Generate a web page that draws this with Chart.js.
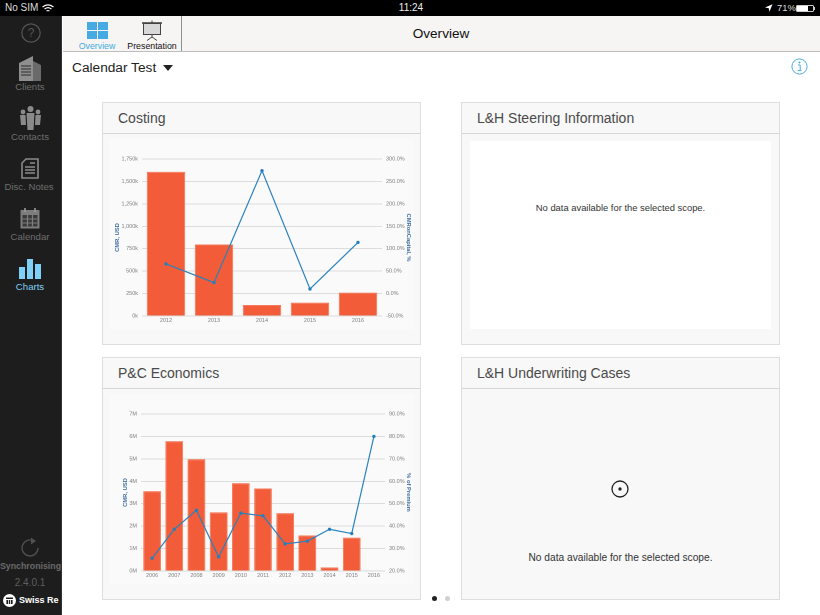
<!DOCTYPE html>
<html>
<head>
<meta charset="utf-8">
<title>Overview</title>
<script src="https://cdn.jsdelivr.net/npm/chart.js@4"></script>
<style>
html, body { margin: 0; padding: 0; background: #fff; }
body { width: 820px; height: 615px; overflow: hidden; position: relative; font-family: "Liberation Sans", sans-serif; }
.box { position: absolute; box-sizing: border-box; }
.txt { position: absolute; white-space: nowrap; line-height: 1; }
.mid { transform: translateX(-50%); }
.side { color: #6e6e6e; font-size: 9.6px; }
.panel { position: absolute; box-sizing: border-box; width: 319px; height: 243px; background: #f8f8f8; border: 1px solid #dedede; }
.panel .head { position: absolute; left: 0; top: 0; right: 0; height: 30px; border-bottom: 1px solid #d6d6d6; }
.panel .title { position: absolute; left: 15px; top: 8px; font-size: 14px; line-height: 1; color: #4a4a4a; white-space: nowrap; }
.nodata { position: absolute; left: 0; right: 0; text-align: center; color: #333; line-height: 1; }
canvas { position: absolute; }
svg { position: absolute; overflow: visible; }
</style>
</head>
<body>

<!-- status bar -->
<div class="box" style="left:0;top:0;width:820px;height:16px;background:#000"></div>
<span class="txt" style="left:5px;top:3px;font-size:10px;color:#ddd">No SIM</span>
<svg style="left:42px;top:4px" width="12" height="9" viewBox="0 0 12 9" fill="none" stroke="#fff" stroke-width="1.2">
  <path d="M0.6 3 Q6 -1.4 11.4 3"/><path d="M2.6 5 Q6 2.2 9.4 5"/><path d="M4.6 7 Q6 6 7.4 7"/>
</svg>
<span class="txt mid" style="left:411px;top:3px;font-size:10px;color:#eee">11:24</span>
<svg style="left:765px;top:4px" width="8" height="8" viewBox="0 0 8 8"><path d="M0 3.6 L7.5 0.3 L4.4 7.8 L3.8 4.2 Z" fill="#fff"/></svg>
<span class="txt" style="left:777px;top:3px;font-size:9.4px;color:#ddd">71%</span>
<div class="box" style="left:796px;top:5px;width:18px;height:7px;border:1px solid #ccc;border-radius:1px"><div style="width:11px;height:5px;background:#fff"></div></div>
<div class="box" style="left:814px;top:7px;width:1px;height:3px;background:#ccc"></div>

<!-- sidebar -->
<div class="box" style="left:0;top:16px;width:62px;height:599px;background:#1d1d1d;border-right:1px solid #333"></div>
<svg style="left:21px;top:23px" width="20" height="20" viewBox="0 0 20 20">
  <circle cx="10" cy="10" r="9.2" fill="none" stroke="#555" stroke-width="1.2"/>
  <text x="10" y="14" font-size="12" text-anchor="middle" fill="#555" font-family="Liberation Sans">?</text>
</svg>
<svg style="left:18px;top:55px" width="24" height="26" viewBox="0 0 24 26">
  <path d="M1 8 L15 1 V26 H1 Z" fill="#8e8e8e"/><path d="M15 6 L23 10 V26 H15 Z" fill="#6a6a6a"/>
  <path d="M3 11 H13 M3 14 H13 M3 17 H13 M3 20 H13" stroke="#2a2a2a" stroke-width="1.2"/>
</svg>
<span class="txt mid side" style="left:30px;top:82px">Clients</span>
<svg style="left:19px;top:106px" width="23" height="24" viewBox="0 0 23 24" fill="#8a8a8a">
  <circle cx="11.5" cy="3" r="3"/><circle cx="4" cy="6" r="2.4"/><circle cx="19" cy="6" r="2.4"/>
  <path d="M7.5 7 H15.5 L14.5 24 H8.5 Z"/><path d="M1 9 H6.5 L7 19 H2 Z"/><path d="M16.5 9 H22 L21 19 H16 Z"/>
</svg>
<span class="txt mid side" style="left:30px;top:132px">Contacts</span>
<svg style="left:21px;top:158px" width="18" height="21" viewBox="0 0 18 21">
  <path d="M5 1 H17 V20 H1 V5 Z" fill="none" stroke="#8a8a8a" stroke-width="1.6"/>
  <path d="M9 5 H14 M4 9 H14 M4 12 H14 M4 15 H14" stroke="#8a8a8a" stroke-width="1.3"/>
</svg>
<span class="txt mid side" style="left:29px;top:182px">Disc. Notes</span>
<svg style="left:20px;top:208px" width="20" height="21" viewBox="0 0 20 21">
  <rect x="0.5" y="2" width="19" height="18.5" fill="#7d7d7d"/>
  <rect x="2.5" y="7" width="15" height="11.5" fill="#3a3a3a"/>
  <path d="M7.5 7 V18.5 M12.5 7 V18.5 M2.5 11 H17.5 M2.5 15 H17.5" stroke="#7d7d7d" stroke-width="1.2"/>
  <path d="M5 0 V4 M15 0 V4" stroke="#9a9a9a" stroke-width="1.6"/>
</svg>
<span class="txt mid side" style="left:30px;top:232px">Calendar</span>
<svg style="left:19px;top:259px" width="22" height="20" viewBox="0 0 22 20" fill="#7fd0f8">
  <rect x="0" y="8" width="6" height="12"/><rect x="8" y="0" width="6" height="20"/><rect x="16" y="5" width="6" height="15"/>
</svg>
<span class="txt mid" style="left:30px;top:282px;font-size:9.6px;color:#7fd0f8">Charts</span>
<svg style="left:21px;top:537px" width="19" height="20" viewBox="0 0 19 20" fill="none" stroke="#505050" stroke-width="1.4">
  <path d="M13 4 A8 8 0 1 0 17 11"/><path d="M10 0.5 L15 4 L10 7.5" fill="#505050" stroke="none"/>
</svg>
<span class="txt mid" style="left:30.5px;top:562px;font-size:8.8px;font-weight:bold;color:#6a6a6a">Synchronising</span>
<span class="txt mid" style="left:30px;top:578px;font-size:10px;color:#5e5e5e">2.4.0.1</span>
<svg style="left:3px;top:594px" width="13" height="13" viewBox="0 0 13 13">
  <circle cx="6.5" cy="6.5" r="6.5" fill="#fff"/>
  <path d="M3 3.6 H10 V5 H3 Z M3.4 6 H5 V10 H3.4 Z M5.8 6 H7.2 V10 H5.8 Z M8 6 H9.6 V10 H8 Z" fill="#1d1d1d"/>
</svg>
<span class="txt" style="left:19px;top:596px;font-size:9px;font-weight:bold;color:#fff">Swiss Re</span>

<!-- top bar -->
<div class="box" style="left:63px;top:16px;width:757px;height:36px;background:#f6f5f3;border-bottom:1px solid #bdbdbd"></div>
<div class="box" style="left:181px;top:16px;width:1px;height:35px;background:#8f8f8f"></div>
<svg style="left:87px;top:22px" width="21" height="17" viewBox="0 0 21 17" fill="#45abe2">
  <rect x="0" y="0" width="10" height="8"/><rect x="11" y="0" width="10" height="8"/>
  <rect x="0" y="9" width="10" height="8"/><rect x="11" y="9" width="10" height="8"/>
</svg>
<span class="txt mid" style="left:97px;top:42px;font-size:8.8px;color:#45abe2">Overview</span>
<svg style="left:141px;top:20px" width="22" height="21" viewBox="0 0 22 21" fill="none" stroke="#444">
  <path d="M1 3 H21" stroke-width="1.6"/><rect x="2.5" y="3.5" width="17" height="11" fill="#d8d8d8" stroke-width="1"/>
  <path d="M11 0.5 V3 M11 15 V17 M11 17 L6 20.5 M11 17 L16 20.5" stroke-width="1"/>
</svg>
<span class="txt mid" style="left:152px;top:42px;font-size:8.8px;color:#111">Presentation</span>
<span class="txt mid" style="left:441px;top:27px;font-size:13.6px;color:#111">Overview</span>

<!-- scope line -->
<span class="txt" style="left:72px;top:61px;font-size:13.7px;color:#222">Calendar Test</span>
<svg style="left:163px;top:65px" width="10" height="6" viewBox="0 0 10 6"><path d="M0 0 H10 L5 6 Z" fill="#222"/></svg>
<svg style="left:791px;top:58px" width="17" height="17" viewBox="0 0 17 17">
  <circle cx="8.5" cy="8.5" r="7.6" fill="none" stroke="#45abe2" stroke-width="1"/>
  <circle cx="8.5" cy="4.6" r="1" fill="#45abe2"/>
  <path d="M7 7 H9.2 V12.4 M6.6 12.6 H10.4" fill="none" stroke="#45abe2" stroke-width="1"/>
</svg>

<!-- panels -->
<div class="panel" style="left:102px;top:102px"><div class="head"></div><span class="title">Costing</span>
  <div class="box" style="left:6px;top:36px;width:305px;height:190px;background:#fafafa"></div>
</div>
<div class="panel" style="left:461px;top:102px"><div class="head"></div><span class="title">L&amp;H Steering Information</span>
  <div class="box" style="left:8px;top:38px;width:301px;height:188px;background:#fff"></div>
  <div class="nodata" style="top:100px;font-size:9.4px">No data available for the selected scope.</div>
</div>
<div class="panel" style="left:102px;top:357px"><div class="head"></div><span class="title">P&amp;C Economics</span>
  <div class="box" style="left:6px;top:36px;width:305px;height:190px;background:#fafafa"></div>
</div>
<div class="panel" style="left:461px;top:357px"><div class="head"></div><span class="title">L&amp;H Underwriting Cases</span>
  <div class="nodata" style="top:195px;font-size:10.2px">No data available for the selected scope.</div>
</div>
<svg style="left:611px;top:480px" width="18" height="18" viewBox="0 0 18 18">
  <circle cx="9" cy="9" r="8" fill="none" stroke="#222" stroke-width="1.3"/><circle cx="9" cy="9" r="1.7" fill="#222"/>
</svg>

<canvas id="costingChart" style="left:108px;top:140px;width:305px;height:195px"></canvas>
<canvas id="economicsChart" style="left:108px;top:395px;width:305px;height:195px"></canvas>

<!-- page dots -->
<div class="box" style="left:432px;top:596px;width:5px;height:5px;border-radius:50%;background:#222"></div>
<div class="box" style="left:445px;top:596px;width:5px;height:5px;border-radius:50%;background:#d0d0d0"></div>

<script>
'use strict';

// ===== COSTING =====
const costingYears = ['2012', '2013', '2014', '2015', '2016'];
const costingCmr = [1608, 797, 123, 149, 260];
const costingRoc = [66, 24.5, 274, 10.3, 114];
const costingLeftTicks = ['0k', '250k', '500k', '750k', '1,000k', '1,250k', '1,500k', '1,750k'];
const costingRightTicks = ['-50.0%', '0.0%', '50.0%', '100.0%', '150.0%', '200.0%', '250.0%', '300.0%'];

// ===== P&C ECONOMICS =====
const economicsYears = ['2006', '2007', '2008', '2009', '2010', '2011', '2012', '2013', '2014', '2015', '2016'];
const economicsCmr = [3.56, 5.79, 4.99, 2.62, 3.92, 3.68, 2.58, 1.59, 0.16, 1.49, 0.015];
const economicsPremium = [25.7, 38.6, 47.1, 26.3, 45.8, 44.6, 32.1, 33.3, 38.6, 36.7, 80];
const economicsLeftTicks = ['0M', '1M', '2M', '3M', '4M', '5M', '6M', '7M'];
const economicsRightTicks = ['20.0%', '30.0%', '40.0%', '50.0%', '60.0%', '70.0%', '80.0%', '90.0%'];

const BAR_COLOR = '#f25c38';
const BAR_EDGE = '#f5795a';
const LINE_COLOR = '#2a82bd';
const GRID_COLOR = '#dcdcdc';
const TICK_COLOR = '#7d7d7d';
const TITLE_COLOR = '#3d6d9e';
const FONT = '"Liberation Sans", sans-serif';

function valueAxis(position, min, max, step, labels, title, width, titleInset, showGrid) {
    return {
        position: position,
        min: min,
        max: max,
        afterBuildTicks: function(axis) {
            axis.ticks = labels.map(function(label, i) { return { value: min + i * step }; });
        },
        afterFit: function(axis) { axis.width = width; },
        border: { display: false },
        grid: { display: showGrid, color: GRID_COLOR, lineWidth: 1, drawTicks: false },
        ticks: {
            autoSkip: false,
            padding: 4,
            color: TICK_COLOR,
            font: { family: FONT, size: 5.5 },
            callback: function(value, index) { return labels[index]; }
        },
        title: {
            display: true,
            text: title,
            color: TITLE_COLOR,
            padding: { top: titleInset, bottom: 0 },
            font: { family: FONT, size: 5.8, weight: 'bold' }
        }
    };
}

function makeChart(id, opts) {
    new Chart(document.getElementById(id), {
        data: {
            labels: opts.labels,
            datasets: [
                {
                    type: 'line',
                    data: opts.lineValues,
                    yAxisID: 'right',
                    order: 1,
                    borderColor: LINE_COLOR,
                    backgroundColor: '#1f6ea8',
                    borderWidth: 1.2,
                    pointRadius: 1.1,
                    tension: 0
                },
                {
                    type: 'bar',
                    data: opts.barValues,
                    yAxisID: 'left',
                    order: 2,
                    backgroundColor: BAR_COLOR,
                    borderColor: BAR_EDGE,
                    borderWidth: 1,
                    categoryPercentage: 1,
                    barPercentage: 0.8
                }
            ]
        },
        options: {
            responsive: false,
            animation: false,
            devicePixelRatio: 2,
            layout: { padding: { top: opts.top, bottom: 0, left: 0, right: 0 } },
            plugins: { legend: { display: false }, tooltip: { enabled: false } },
            scales: {
                x: {
                    afterFit: function(axis) { axis.height = 19; },
                    border: { display: false },
                    grid: { display: false, drawTicks: false },
                    ticks: { padding: 1, color: TICK_COLOR, font: { family: FONT, size: 5.5 }, maxRotation: 0 }
                },
                left: valueAxis('left', opts.leftMin, opts.leftMax, opts.leftStep, opts.leftTicks, opts.leftTitle, opts.leftWidth, opts.leftInset, true),
                right: valueAxis('right', opts.rightMin, opts.rightMax, opts.rightStep, opts.rightTicks, opts.rightTitle, opts.rightWidth, 1, false)
            }
        }
    });
}

document.getElementById('costingChart').width = 305;
document.getElementById('costingChart').height = 195;
document.getElementById('economicsChart').width = 305;
document.getElementById('economicsChart').height = 195;

makeChart('costingChart', {
    labels: costingYears,
    barValues: costingCmr,
    lineValues: costingRoc,
    top: 19,
    leftMin: 0, leftMax: 1750, leftStep: 250, leftTicks: costingLeftTicks, leftTitle: 'CMR, USD', leftWidth: 34, leftInset: 6,
    rightMin: -50, rightMax: 300, rightStep: 50, rightTicks: costingRightTicks, rightTitle: 'CMRonCapital, %', rightWidth: 31
});

makeChart('economicsChart', {
    labels: economicsYears,
    barValues: economicsCmr,
    lineValues: economicsPremium,
    top: 19,
    leftMin: 0, leftMax: 7, leftStep: 1, leftTicks: economicsLeftTicks, leftTitle: 'CMR, USD', leftWidth: 33, leftInset: 14,
    rightMin: 20, rightMax: 90, rightStep: 10, rightTicks: economicsRightTicks, rightTitle: '% of Premium', rightWidth: 28
});
</script>
</body>
</html>
